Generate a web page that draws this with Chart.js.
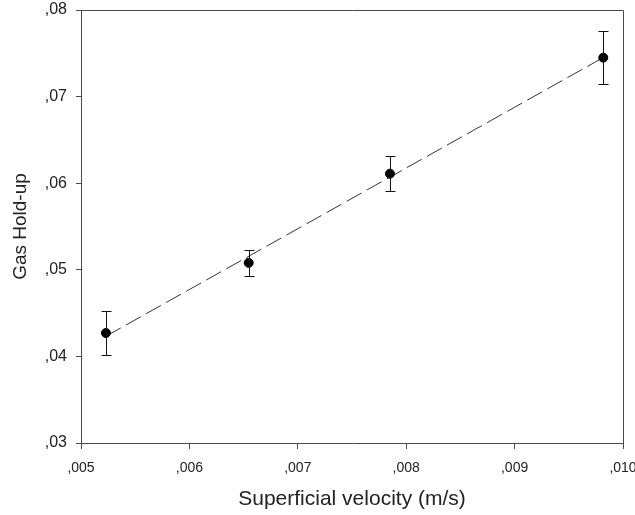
<!DOCTYPE html>
<html>
<head>
<meta charset="utf-8">
<script src="https://cdn.jsdelivr.net/npm/chart.js@4/dist/chart.umd.min.js"></script>
<style>
  html, body { margin: 0; padding: 0; background: #fff; }
  #wrap { width: 635px; height: 515px; }
</style>
</head>
<body>
<div id="wrap"><canvas id="c" width="635" height="515"></canvas></div>
<script>
// Measured gas hold-up against superficial gas velocity
const velocity = [0.00523, 0.006547, 0.00785, 0.009818];
const holdUp = [0.0427, 0.0508, 0.0611, 0.0745];
const holdUpError = [0.0025, 0.0015, 0.002, 0.0031];

const xTicks = [0.005, 0.006, 0.007, 0.008, 0.009, 0.010];
const yTicks = [0.03, 0.04, 0.05, 0.06, 0.07, 0.08];

// Least-squares straight line through the measurements
function linearFit(xs, ys) {
  const n = xs.length;
  const mx = xs.reduce((a, b) => a + b, 0) / n;
  const my = ys.reduce((a, b) => a + b, 0) / n;
  let sxy = 0, sxx = 0;
  for (let i = 0; i < n; i++) {
    sxy += (xs[i] - mx) * (ys[i] - my);
    sxx += (xs[i] - mx) * (xs[i] - mx);
  }
  const slope = sxy / sxx;
  return { slope, intercept: my - slope * mx };
}
const fit = linearFit(velocity, holdUp);
const xMin = Math.min(...velocity), xMax = Math.max(...velocity);
const fitLine = [xMin, xMax].map(x => ({ x, y: fit.intercept + fit.slope * x }));

// Decimal-comma labels with the leading zero dropped: 0.005 -> ",005"
const commaLabel = digits => v => v.toFixed(digits).replace(/^0\./, ',');

const axisColor = '#4a4a4a';
const textColor = '#222222';
const font = 'Arial, "Liberation Sans", sans-serif';

// Vertical error bars with caps plus a full frame round the plot area
const decorations = {
  id: 'decorations',
  afterDatasetsDraw(chart) {
    const { ctx, chartArea } = chart;
    const xs = chart.scales.x, ys = chart.scales.y;
    ctx.save();
    ctx.strokeStyle = '#111';
    ctx.lineWidth = 1;
    for (let i = 0; i < velocity.length; i++) {
      const px = Math.round(xs.getPixelForValue(velocity[i])) + 0.5;
      const top = Math.round(ys.getPixelForValue(holdUp[i] + holdUpError[i])) + 0.5;
      const bot = Math.round(ys.getPixelForValue(holdUp[i] - holdUpError[i])) + 0.5;
      ctx.beginPath();
      ctx.moveTo(px, top); ctx.lineTo(px, bot);
      ctx.moveTo(px - 5, top); ctx.lineTo(px + 5, top);
      ctx.moveTo(px - 5, bot); ctx.lineTo(px + 5, bot);
      ctx.stroke();
    }
    ctx.strokeStyle = axisColor;
    ctx.beginPath();
    ctx.moveTo(chartArea.left, chartArea.top + 0.5);
    ctx.lineTo(chartArea.right + 0.5, chartArea.top + 0.5);
    ctx.lineTo(chartArea.right + 0.5, chartArea.bottom);
    ctx.stroke();
    ctx.restore();
  }
};

new Chart(document.getElementById('c'), {
  type: 'scatter',
  data: {
    datasets: [
      {
        label: 'Linear fit',
        type: 'line',
        data: fitLine,
        borderColor: '#333',
        borderWidth: 1,
        borderDash: [17, 6],
        pointRadius: 0,
        fill: false,
        order: 2
      },
      {
        label: 'Gas hold-up',
        data: velocity.map((x, i) => ({ x, y: holdUp[i] })),
        backgroundColor: '#000',
        borderColor: '#000',
        pointRadius: 4.5,
        pointHoverRadius: 4.5,
        order: 1
      }
    ]
  },
  plugins: [decorations],
  options: {
    responsive: false,
    animation: false,
    events: [],
    layout: { padding: { left: 0, top: 10, right: 12, bottom: 0 } },
    plugins: { legend: { display: false }, tooltip: { enabled: false } },
    scales: {
      x: {
        type: 'linear',
        min: xTicks[0],
        max: xTicks[xTicks.length - 1],
        afterBuildTicks: s => { s.ticks = xTicks.map(v => ({ value: v })); },
        afterFit: s => { s.height = 72; s.paddingLeft = 0; s.paddingRight = 0; },
        grid: { drawOnChartArea: false, drawTicks: true, tickLength: 6, color: axisColor },
        border: { color: axisColor, width: 1 },
        ticks: {
          callback: commaLabel(3),
          color: textColor,
          font: { family: font, size: 14 },
          padding: 11,
          maxRotation: 0
        },
        title: {
          display: true,
          text: 'Superficial velocity (m/s)',
          color: textColor,
          font: { family: font, size: 21 },
          padding: { top: 0, bottom: 3 }
        }
      },
      y: {
        type: 'linear',
        min: yTicks[0],
        max: yTicks[yTicks.length - 1],
        afterBuildTicks: s => { s.ticks = yTicks.map(v => ({ value: v })); },
        afterFit: s => { s.width = 81; s.paddingTop = 0; s.paddingBottom = 0; },
        grid: { drawOnChartArea: false, drawTicks: true, tickLength: 5, color: axisColor },
        border: { color: axisColor, width: 1 },
        ticks: {
          callback: commaLabel(2),
          color: textColor,
          font: { family: font, size: 16 },
          padding: 9
        },
        title: {
          display: true,
          text: 'Gas Hold-up',
          color: textColor,
          font: { family: font, size: 19 },
          padding: { top: 9, bottom: 0 }
        }
      }
    }
  }
});
</script>
</body>
</html>
